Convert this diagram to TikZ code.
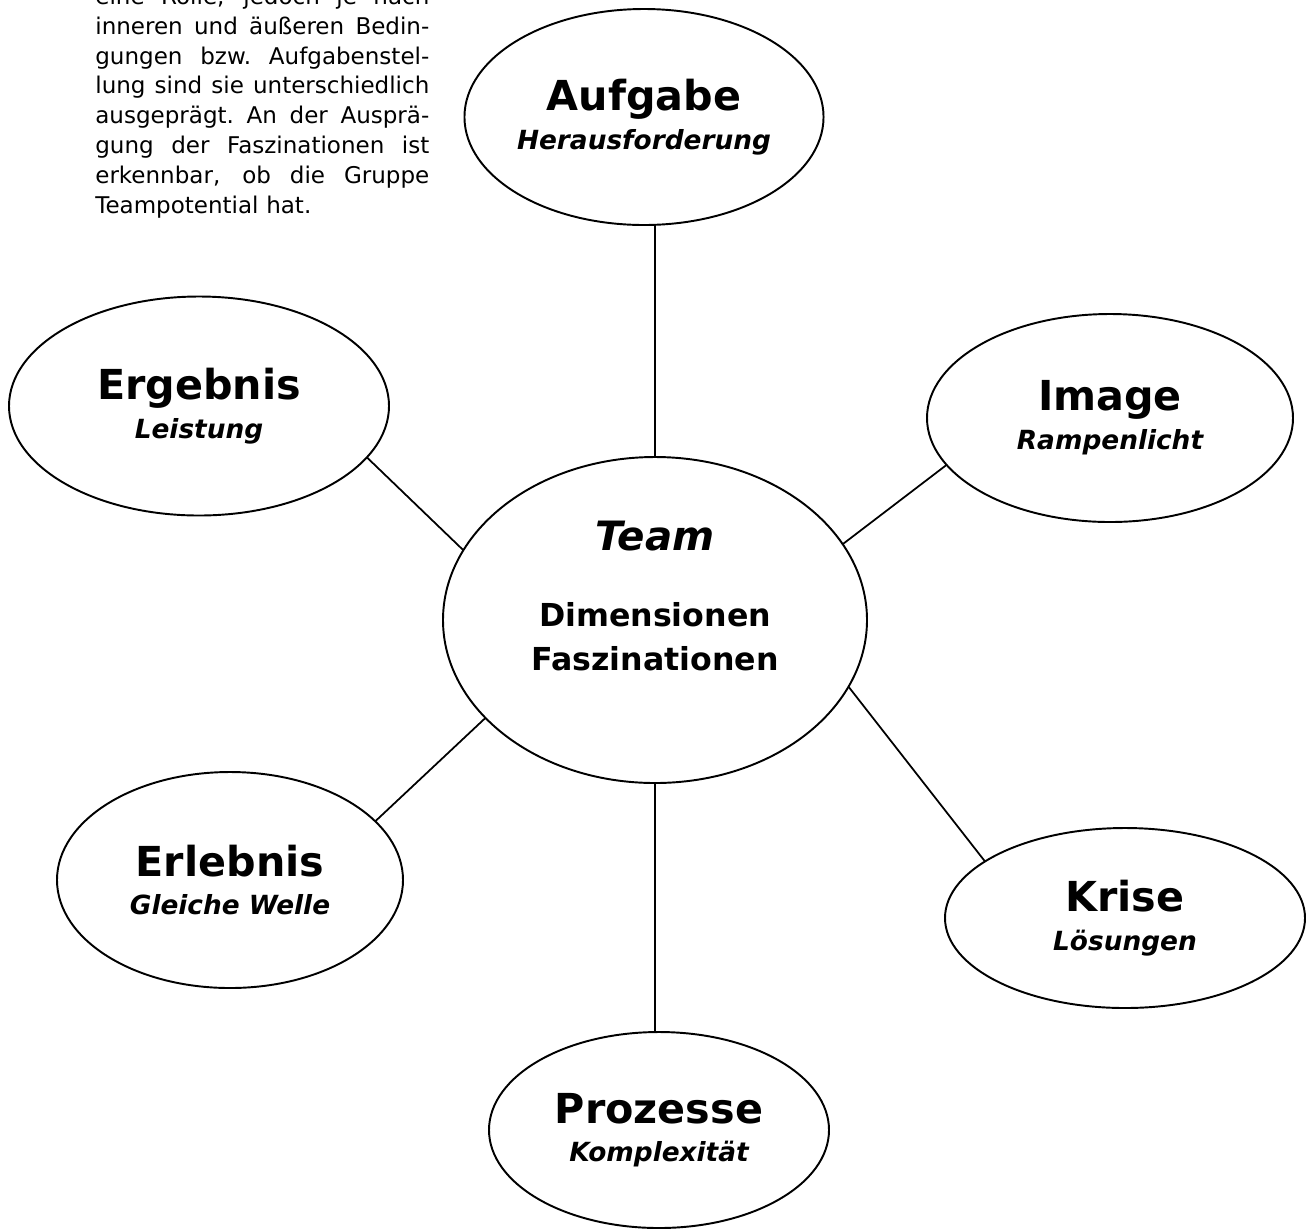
\documentclass[tikz,border=0pt]{standalone}
\usepackage{fontspec}
\setmainfont{DejaVu Sans}
\usepackage{tikz}
\usetikzlibrary{shapes.geometric,positioning,calc}

\newcommand{\ovalsub}[1]{{\fontsize{15}{22}\selectfont\itshape #1}}
\newcommand{\noteline}[1]{\hbox to 6.68cm{\spaceskip=0.3em plus 1fil\xspaceskip=\spaceskip #1}}

\begin{document}
\begin{tikzpicture}[
    oval/.style={draw=black, ellipse, line width=1.1pt, inner sep=0pt, outer sep=0pt, align=center, font=\bfseries\fontsize{23.5}{22}\selectfont},
    hub/.style={draw=black, ellipse, line width=1.1pt, inner sep=0pt, outer sep=0pt, minimum width=8.48cm, minimum height=6.52cm},
    note/.style={inner sep=0pt, text width=6.68cm, align=left, font=\fontsize{13.1}{17}\selectfont},
    link/.style={line width=1pt, color=black}
]
\useasboundingbox (0,0) rectangle (26.24,-24.58);

% Text block, top left (cut at the page edge)
\node[note, anchor=base west] (note) at (1.9,-0.086) {
    \noteline{eine Rolle, jedoch je nach}
    \noteline{inneren und äußeren Bedin-}
    \noteline{gungen bzw. Aufgabenstel-}
    \noteline{lung sind sie unterschiedlich}
    \noteline{ausgeprägt. An der Ausprä-}
    \noteline{gung der Faszinationen ist}
    \noteline{erkennbar, ob die Gruppe}
    Teampotential hat.
};

% Centre: Team
\node[hub] (team) at (13.1,-12.4) {};
\node[align=center, inner sep=0pt, font=\bfseries\fontsize{18}{25}\selectfont] (teamtxt) at ([yshift=0.48cm]team.center) {
    {\fontsize{23}{25}\selectfont\itshape Team}\\[18.6pt]
    Dimensionen\\
    Faszinationen
};

% Six dimensions round the centre
\node[oval, minimum width=7.12cm, minimum height=4.32cm] (aufgabe) at (12.88,-2.34) {Aufgabe\\\ovalsub{Herausforderung}};
\node[oval, minimum width=7.60cm, minimum height=4.38cm] (ergebnis) at (3.98,-8.12) {Ergebnis\\\ovalsub{Leistung}};
\node[oval, minimum width=7.32cm, minimum height=4.16cm] (image) at (22.20,-8.36) {Image\\\ovalsub{Rampenlicht}};
\node[oval, minimum width=6.92cm, minimum height=4.32cm] (erlebnis) at (4.60,-17.60) {Erlebnis\\\ovalsub{Gleiche Welle}};
\node[oval, minimum width=7.20cm, minimum height=3.60cm] (krise) at (22.50,-18.36) {Krise\\\ovalsub{Lösungen}};
\node[oval, minimum width=6.80cm, minimum height=3.92cm] (prozesse) at (13.18,-22.60) {Prozesse\\\ovalsub{Komplexität}};

% Connectors
\draw[link] (team.north) -- (team.north |- aufgabe.south);
\draw[link] (team.south) -- (team.south |- prozesse.north);
\draw[link] (team.160) -- (ergebnis.343);
\draw[link] (team.22) -- (image.196);
\draw[link] (team.210) -- (erlebnis.22);
\draw[link] (team.341) -- (krise.158);

\end{tikzpicture}
\end{document}
